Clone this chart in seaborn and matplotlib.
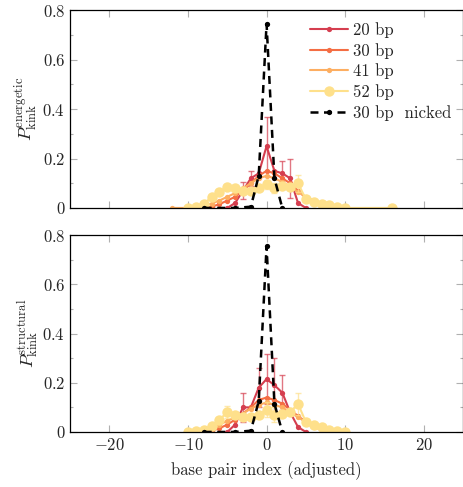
import matplotlib
matplotlib.use("Agg")
import matplotlib.pyplot as plt
import seaborn as sns
import numpy as np
import pandas as pd
from matplotlib.ticker import MultipleLocator

# ---- data ----
labels = ["20 bp", "30 bp", "41 bp", "52 bp"]
colors = ["#d53e4f", "#f46d43", "#fdae61", "#fee08b"]

# energetic (top panel)
x_20 = list(range(-5, 6))
e_20 = [0.0, 0.02, 0.07, 0.12, 0.14, 0.25, 0.15, 0.14, 0.12, 0.02, 0.0]
e_20_err = [0, 0, 0.035, 0.03, 0, 0.12, 0, 0.05, 0.08, 0, 0]

x_30 = list(range(-8, 11))
e_30 = [0.0, 0.005, 0.015, 0.03, 0.045, 0.07, 0.1, 0.13, 0.15, 0.14,
        0.12, 0.1, 0.07, 0.04, 0.025, 0.012, 0.005, 0.0, 0.0]

x_41_e = [-12] + list(range(-10, 11))
e_41 = [0.0, 0.0, 0.003, 0.008, 0.018, 0.03, 0.045, 0.06, 0.08, 0.1, 0.12,
        0.13, 0.12, 0.105, 0.085, 0.065, 0.045, 0.03, 0.018, 0.008, 0.003, 0.0]

x_52_e = list(range(-10, 11)) + [16]
e_52 = [0.0, 0.005, 0.015, 0.045, 0.065, 0.085, 0.08, 0.07, 0.07, 0.08, 0.095,
        0.08, 0.09, 0.085, 0.1, 0.035, 0.025, 0.015, 0.01, 0.005, 0.0, 0.0]
e_52_err = [0, 0, 0, 0, 0, 0, 0, 0, 0, 0, 0.02,
            0.02, 0, 0, 0.035, 0, 0, 0, 0, 0, 0, 0]

# structural (bottom panel)
s_20 = [0.0, 0.03, 0.1, 0.1, 0.18, 0.215, 0.19, 0.16, 0.08, 0.02, 0.0]
s_20_err = [0, 0, 0.06, 0, 0.08, 0.1, 0.11, 0.07, 0, 0, 0]

s_30 = [0.0, 0.005, 0.015, 0.03, 0.05, 0.075, 0.1, 0.13, 0.14, 0.13,
        0.115, 0.09, 0.065, 0.04, 0.02, 0.01, 0.005, 0.0, 0.0]

x_41_s = list(range(-10, 11))
s_41 = [0.0, 0.003, 0.008, 0.018, 0.03, 0.045, 0.06, 0.075, 0.095, 0.11, 0.12,
        0.11, 0.1, 0.08, 0.06, 0.04, 0.027, 0.015, 0.007, 0.003, 0.0]

x_52_s = list(range(-10, 11))
s_52 = [0.0, 0.005, 0.01, 0.025, 0.05, 0.08, 0.07, 0.06, 0.06, 0.07, 0.09,
        0.07, 0.075, 0.08, 0.115, 0.04, 0.03, 0.02, 0.01, 0.005, 0.0]
s_52_err = [0, 0, 0, 0, 0, 0.025, 0, 0, 0, 0, 0.03,
            0.03, 0, 0, 0.045, 0, 0, 0, 0, 0, 0]

# 30 bp nicked
x_nick = [-8, -4, -2, -1, 0, 1, 2]
e_nick = [0.0, 0.0, 0.005, 0.13, 0.745, 0.12, 0.0]
s_nick = [0.0, 0.0, 0.005, 0.125, 0.755, 0.115, 0.0]

x_ticks = [-20, -10, 0, 10, 20]
x_tick_labels = ["$-20$", "$-10$", "$0$", "$10$", "$20$"]
y_ticks = [0, 0.2, 0.4, 0.6, 0.8]
y_tick_labels = ["$0$", "$0.2$", "$0.4$", "$0.6$", "$0.8$"]

sns.set_style("ticks")
plt.rcParams["font.family"] = ["cmr10", "DejaVu Serif"]
plt.rcParams["mathtext.fontset"] = "cm"
plt.rcParams["axes.unicode_minus"] = False
plt.rcParams["font.size"] = 12

fig = plt.figure(figsize=(4.64, 4.87), dpi=100)
ax_top = fig.add_axes([0.151, 0.573, 0.847, 0.406])
ax_bot = fig.add_axes([0.151, 0.113, 0.847, 0.404])

panels = [
    (ax_top, [(x_20, e_20, e_20_err), (x_30, e_30, None), (x_41_e, e_41, None),
              (x_52_e, e_52, e_52_err)], e_nick,
     r"$P_{\mathrm{kink}}^{\mathrm{energetic}}$"),
    (ax_bot, [(x_20, s_20, s_20_err), (x_30, s_30, None), (x_41_s, s_41, None),
              (x_52_s, s_52, s_52_err)], s_nick,
     r"$P_{\mathrm{kink}}^{\mathrm{structural}}$"),
]

for ax, series, nick, ylab in panels:
    for (xs, ys, err), lab, col in zip(series, labels, colors):
        ms = 7.5 if lab == "52 bp" else 3.8
        df = pd.DataFrame({"x": xs, "y": ys})
        if err is not None:
            xe = [a for a, e in zip(xs, err) if e > 0]
            ye = [b for b, e in zip(ys, err) if e > 0]
            ee = [e for e in err if e > 0]
            ax.errorbar(xe, ye, yerr=ee, fmt="none", ecolor=col, alpha=0.7,
                        elinewidth=1.0, capsize=2.5, capthick=1.0)
        sns.lineplot(data=df, x="x", y="y", ax=ax, color=col, marker="o",
                     markersize=ms, markeredgewidth=0, linewidth=1.5,
                     label=lab, legend=False)
    df_n = pd.DataFrame({"x": x_nick, "y": nick})
    sns.lineplot(data=df_n, x="x", y="y", ax=ax, color="black", marker="o",
                 markersize=3.8, markeredgewidth=0, linewidth=1.8,
                 linestyle=(0, (3.2, 2.2)), label="30 bp  nicked", legend=False)

    ax.set_xlim(-25, 25)
    ax.set_ylim(0, 0.8)
    ax.set_yticks(y_ticks)
    ax.set_yticklabels(y_tick_labels)
    ax.yaxis.set_minor_locator(MultipleLocator(0.1))
    ax.set_xticks(x_ticks)
    ax.set_ylabel(ylab, fontsize=13, labelpad=2)
    ax.tick_params(which="both", direction="in", top=True, right=True,
                   color="#b0b0b0", width=0.8, labelsize=12)
    ax.tick_params(which="major", length=5)
    ax.tick_params(which="minor", length=2.5)
    for sp in ax.spines.values():
        sp.set_linewidth(0.9)
        sp.set_color("black")

ax_top.set_xticklabels([])
ax_top.set_xlabel("")
ax_bot.set_xticklabels(x_tick_labels)
ax_bot.set_xlabel("base pair index (adjusted)", fontsize=12, labelpad=6)

ax_top.legend(loc="upper right", frameon=False, fontsize=12, handlelength=2.3,
              borderaxespad=0.3, labelspacing=0.3, handletextpad=0.3)

fig.savefig("out.png", dpi=100)
